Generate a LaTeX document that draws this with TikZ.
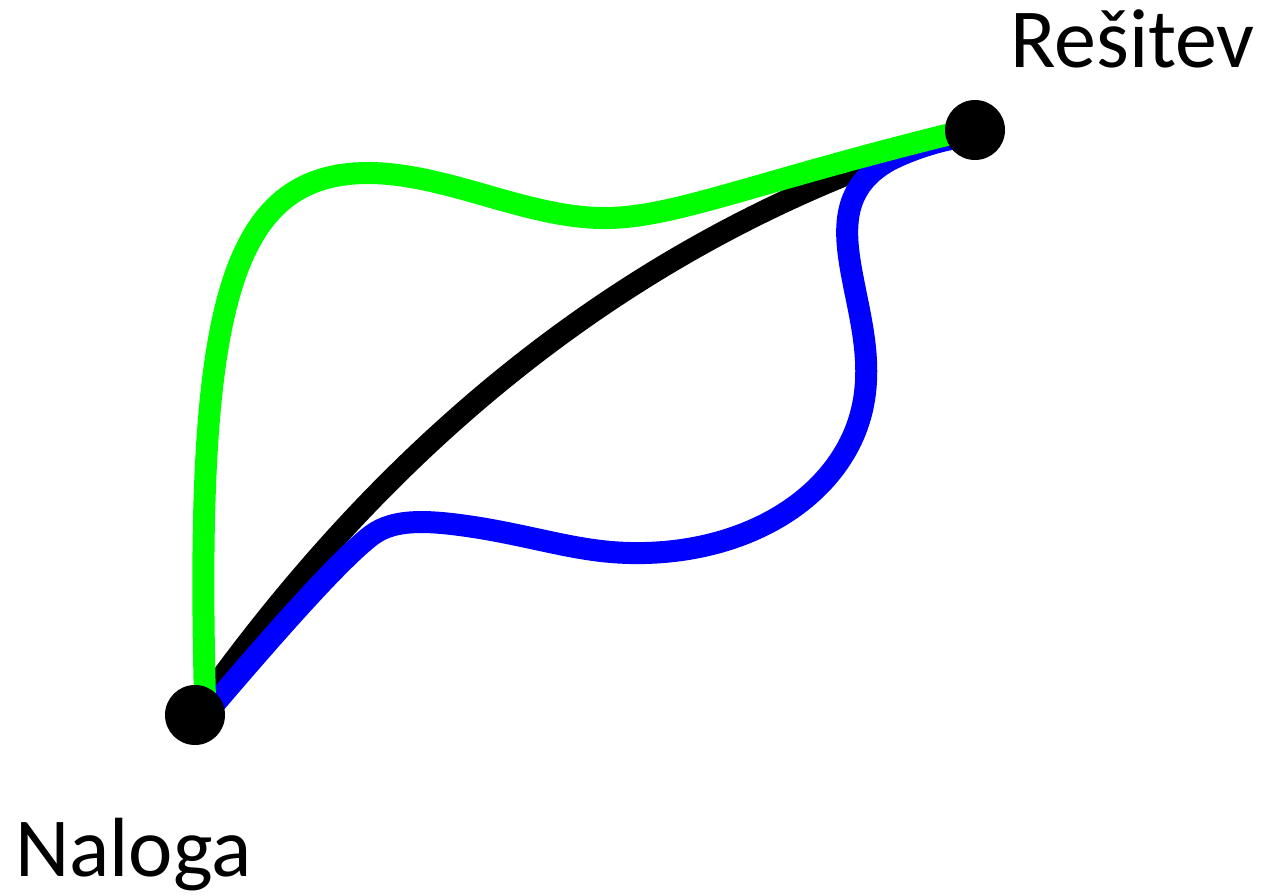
\documentclass[tikz,border=0pt]{standalone}
\usepackage{fontspec}
\setmainfont{Carlito}
\begin{document}
\begin{tikzpicture}[x=1pt,y=-1pt,
  path/.style={line width=22pt,line cap=round},
  dot/.style={circle,fill=black,minimum size=60pt,inner sep=0pt},
  lbl/.style={font=\fontsize{84}{90}\selectfont,inner sep=0pt,anchor=base west}]
\useasboundingbox (0,0) rectangle (1266,896);
\coordinate (N) at (195,715);
\coordinate (R) at (975,130);
% black direct
\draw[path,black] ([xshift=8pt,yshift=12pt]N) .. controls (320,540) and (560,250) .. (R);
% blue
\draw[path,blue] ([xshift=10pt,yshift=0pt]N) .. controls (290,615) and (345,555) .. (372,535)
  .. controls (395,518) and (430,520) .. (480,528)
  .. controls (540,538) and (580,552) .. (630,553)
  .. controls (720,555) and (800,520) .. (840,460)
  .. controls (880,400) and (865,340) .. (855,290)
  .. controls (845,240) and (835,190) .. (890,160)
  .. controls (920,145) and (950,138) .. ([yshift=-5pt]R);
% green
\draw[path,green] ([xshift=10pt,yshift=15pt]N) .. controls (195,310) and (228,172) .. (370,173)
  .. controls (450,174) and (530,220) .. (610,218)
  .. controls (680,216) and (760,180) .. ([yshift=2pt]R);
\node[dot] (naloga) at (N) {};
\node[dot] (resitev) at (R) {};
\node[lbl] (tNaloga) at (15,876) {Naloga};
\node[lbl] (tResitev) at (1010,68) {Rešitev};
\end{tikzpicture}
\end{document}
